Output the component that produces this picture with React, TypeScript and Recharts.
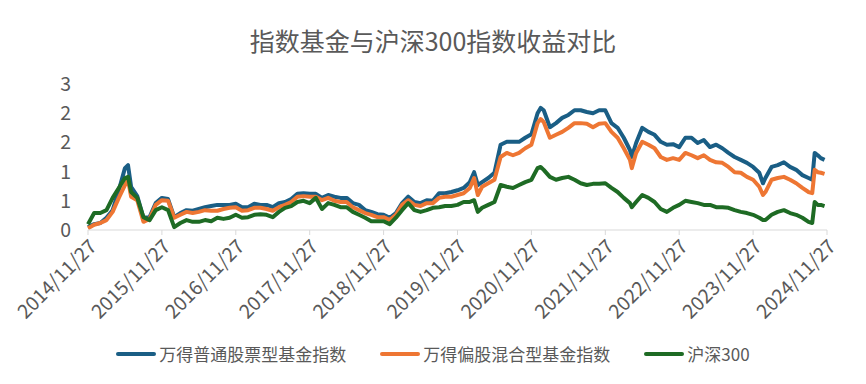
import { LineChart, Line, XAxis, YAxis } from "recharts";

// months since 2014/11/27 (a few extra points at peaks / jumps)
const months = [
  0, 1, 2, 3, 4, 5, 6, 6.5, 7, 8, 9, 10, 11, 12, 13, 14, 15, 16, 17, 18, 19,
  20, 21, 22, 23, 24, 25, 26, 27, 28, 29, 30, 31, 32, 33, 34, 35, 36, 37, 38, 39,
  40, 41, 42, 43, 44, 45, 46, 47, 48, 49, 50, 51, 52, 53, 54, 55, 56, 57, 58, 59,
  60, 61, 62, 62.7, 63.3, 64, 65, 66, 67, 68, 69, 70, 71, 72, 73, 73.5, 74, 75, 76, 77, 78, 79,
  80, 81, 82, 83, 84, 85, 86, 87, 88, 88.3, 89, 90, 91, 92, 93, 94, 95, 96, 97, 98, 99,
  100, 101, 102, 103, 104, 105, 106, 107, 108, 109, 109.6, 110, 111, 112, 113, 114, 115, 116, 117, 117.6,
  118, 118.5, 119, 119.6,
];

const stockFund = [
  0.05, 0.1, 0.12, 0.21, 0.34, 0.68, 1.06, 1.11, 0.74, 0.58, 0.21, 0.22, 0.46, 0.55, 0.53, 0.22, 0.29, 0.34, 0.33, 0.36, 0.39,
  0.41, 0.43, 0.43, 0.43, 0.45, 0.39, 0.39, 0.45, 0.43, 0.43, 0.39, 0.46, 0.48, 0.53, 0.62, 0.63, 0.62, 0.62, 0.55, 0.6,
  0.57, 0.55, 0.55, 0.46, 0.43, 0.34, 0.31, 0.27, 0.26, 0.21, 0.29, 0.46, 0.57, 0.48, 0.46, 0.51, 0.5, 0.63, 0.63, 0.65,
  0.68, 0.72, 0.82, 0.99, 0.77, 0.82, 0.89, 0.98, 1.46, 1.51, 1.51, 1.51, 1.58, 1.64, 2.0, 2.09, 2.05, 1.76, 1.83, 1.92, 1.97, 2.05,
  2.05, 2.02, 2.0, 2.05, 2.05, 1.83, 1.75, 1.58, 1.37, 1.25, 1.49, 1.75, 1.68, 1.63, 1.51, 1.46, 1.47, 1.42, 1.58, 1.58, 1.49,
  1.54, 1.42, 1.46, 1.4, 1.32, 1.25, 1.2, 1.15, 1.08, 0.98, 0.8, 0.89, 1.08, 1.11, 1.16, 1.08, 1.03, 0.94, 0.89, 0.86,
  1.32, 1.28, 1.23, 1.2,
];

const hybridFund = [
  0.03, 0.09, 0.12, 0.17, 0.31, 0.55, 0.77, 0.86, 0.57, 0.51, 0.14, 0.19, 0.43, 0.51, 0.5, 0.21, 0.26, 0.31, 0.29, 0.31, 0.34,
  0.33, 0.33, 0.36, 0.38, 0.39, 0.33, 0.34, 0.38, 0.38, 0.36, 0.33, 0.39, 0.43, 0.48, 0.57, 0.58, 0.57, 0.57, 0.51, 0.55,
  0.5, 0.48, 0.48, 0.39, 0.34, 0.29, 0.26, 0.22, 0.22, 0.17, 0.26, 0.43, 0.51, 0.43, 0.41, 0.46, 0.46, 0.55, 0.57, 0.57,
  0.6, 0.63, 0.72, 0.89, 0.6, 0.74, 0.8, 0.86, 1.25, 1.32, 1.28, 1.32, 1.4, 1.46, 1.83, 1.9, 1.85, 1.58, 1.63, 1.68, 1.75, 1.83,
  1.83, 1.82, 1.76, 1.82, 1.83, 1.68, 1.58, 1.4, 1.2, 1.06, 1.32, 1.51, 1.46, 1.4, 1.25, 1.2, 1.23, 1.2, 1.32, 1.28, 1.23,
  1.28, 1.2, 1.16, 1.15, 1.08, 0.99, 0.98, 0.91, 0.86, 0.74, 0.6, 0.65, 0.86, 0.89, 0.91, 0.86, 0.8, 0.72, 0.65, 0.63,
  1.03, 0.99, 0.98, 0.96,
];

const hs300 = [
  0.1, 0.29, 0.29, 0.34, 0.55, 0.72, 0.89, 0.91, 0.65, 0.55, 0.22, 0.17, 0.34, 0.39, 0.34, 0.05, 0.12, 0.17, 0.14, 0.14, 0.17,
  0.15, 0.21, 0.19, 0.21, 0.26, 0.21, 0.22, 0.26, 0.27, 0.26, 0.22, 0.31, 0.38, 0.41, 0.48, 0.5, 0.46, 0.55, 0.36, 0.46,
  0.43, 0.39, 0.39, 0.31, 0.26, 0.21, 0.15, 0.15, 0.15, 0.1, 0.21, 0.34, 0.46, 0.34, 0.31, 0.34, 0.38, 0.39, 0.41, 0.41,
  0.43, 0.48, 0.48, 0.51, 0.31, 0.38, 0.43, 0.48, 0.77, 0.74, 0.72, 0.77, 0.82, 0.86, 1.06, 1.08, 1.03, 0.91, 0.86, 0.89, 0.91, 0.86,
  0.8, 0.77, 0.79, 0.79, 0.8, 0.72, 0.65, 0.55, 0.46, 0.39, 0.48, 0.6, 0.55, 0.48, 0.36, 0.31, 0.38, 0.43, 0.5, 0.48, 0.46,
  0.43, 0.43, 0.39, 0.39, 0.38, 0.34, 0.31, 0.29, 0.26, 0.21, 0.17, 0.17, 0.26, 0.31, 0.34, 0.29, 0.26, 0.21, 0.14, 0.12,
  0.48, 0.43, 0.43, 0.41,
];

const xTicks = [0, 12, 24, 36, 48, 60, 72, 84, 96, 108, 120];
const yTicks = [0, 0.5, 1, 1.5, 2, 2.5];

const series = [
  { key: "stock", name: "万得普通股票型基金指数", color: "#1a5e85" },
  { key: "hybrid", name: "万得偏股混合型基金指数", color: "#ee7633" },
  { key: "hs300", name: "沪深300", color: "#1e6b24" },
];

const data = months.map((t, i) => ({
  t,
  stock: stockFund[i],
  hybrid: hybridFund[i],
  hs300: hs300[i],
}));

const FONT = '"Noto Sans CJK SC", "Noto Sans", sans-serif';
const TEXT = "#595959";

export default function App() {
  return (
    <div style={{ position: "absolute", left: 0, top: 0, width: 866, height: 384, background: "#fff", fontFamily: FONT }}>
      <div style={{ position: "absolute", top: 22, left: 0, width: 866, textAlign: "center", fontSize: 25, color: TEXT, lineHeight: "36px" }}>
        指数基金与沪深300指数收益对比
      </div>
      <LineChart width={866} height={384} data={data} margin={{ top: 84, right: 39, left: 0, bottom: 0 }}>
        <XAxis
          dataKey="t"
          type="number"
          domain={[0, 120]}
          ticks={xTicks}
          tickFormatter={(v: number) => `${2014 + v / 12}/11/27`}
          interval={0}
          angle={-45}
          textAnchor="end"
          height={154}
          tickSize={5}
          tickMargin={3}
          stroke="#d9d9d9"
          tick={{ fill: TEXT, fontSize: 19.5, fontFamily: FONT }}
        />
        <YAxis
          type="number"
          domain={[0, 2.5]}
          ticks={yTicks}
          tickFormatter={(v: number) => String(Math.round(v))}
          width={88}
          axisLine={false}
          tickLine={false}
          tickMargin={11}
          tick={{ fill: TEXT, fontSize: 19.5, fontFamily: FONT }}
        />
        {series.map((s) => (
          <Line
            key={s.key}
            dataKey={s.key}
            name={s.name}
            type="linear"
            stroke={s.color}
            strokeWidth={4}
            dot={false}
            strokeLinejoin="round"
            isAnimationActive={false}
          />
        ))}
      </LineChart>
      <div style={{ position: "absolute", top: 341, left: 0, width: 866, display: "flex", justifyContent: "center", gap: 34, fontSize: 17, color: TEXT }}>
        {series.map((s) => (
          <div key={s.key} style={{ display: "flex", alignItems: "center" }}>
            <span style={{ display: "inline-block", width: 40, height: 4, borderRadius: 2, background: s.color, marginRight: 3 }} />
            <span>{s.name}</span>
          </div>
        ))}
      </div>
    </div>
  );
}
